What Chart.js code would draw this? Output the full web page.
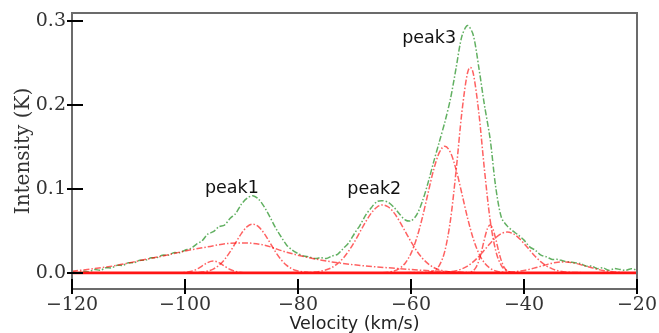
<!DOCTYPE html>
<html>
<head>
<meta charset="utf-8">
<script src="https://cdn.jsdelivr.net/npm/chart.js@4.4.1/dist/chart.umd.min.js"></script>
<style>
  html, body { margin: 0; padding: 0; background: #fff; }
  #wrap { width: 659px; height: 333px; }
</style>
</head>
<body>
<div id="wrap"><canvas id="spec" width="659" height="333"></canvas></div>
<script>
// observed spectrum (green), km/s vs K
var velocity = [-120, -119, -118, -117, -116, -115, -114, -113, -112, -111, -110, -109, -108, -107, -106, -105, -104, -103, -102, -101,
  -100, -99, -98, -97, -96, -95, -94, -93, -92, -91, -90, -89, -88, -87, -86, -85, -84, -83, -82, -81,
  -80, -79, -78, -77, -76, -75, -74, -73, -72, -71, -70, -69, -68, -67, -66, -65, -64, -63, -62, -61,
  -60, -59, -58, -57, -56, -55, -54, -53, -52, -51, -50, -49, -48, -47, -46, -45, -44, -43, -42, -41,
  -40, -39, -38, -37, -36, -35, -34, -33, -32, -31, -30, -29, -28, -27, -26, -25, -24, -23, -22, -21, -20];
var intensity = [0.001, 0.000, 0.002, 0.001, 0.004, 0.003, 0.006, 0.006, 0.009, 0.009, 0.012, 0.012, 0.015, 0.015, 0.018, 0.018, 0.021, 0.021, 0.024, 0.024,
  0.027, 0.029, 0.034, 0.038, 0.046, 0.049, 0.055, 0.057, 0.065, 0.071, 0.082, 0.089, 0.092, 0.088, 0.079, 0.067, 0.054, 0.043, 0.033, 0.027,
  0.023, 0.020, 0.019, 0.017, 0.018, 0.017, 0.020, 0.022, 0.029, 0.036, 0.047, 0.057, 0.069, 0.078, 0.085, 0.086, 0.084, 0.078, 0.070, 0.063,
  0.062, 0.069, 0.085, 0.107, 0.132, 0.156, 0.180, 0.208, 0.245, 0.282, 0.295, 0.284, 0.245, 0.200, 0.160, 0.102, 0.066, 0.056, 0.050, 0.045,
  0.039, 0.031, 0.027, 0.021, 0.019, 0.016, 0.016, 0.014, 0.013, 0.012, 0.011, 0.008, 0.008, 0.005, 0.006, 0.003, 0.005, 0.004, 0.003, 0.005, 0.003];

// fitted components (red)
var broadV = [-120, -116, -112, -108, -104, -100, -96, -92, -89, -86, -82, -78, -74, -70, -66, -62, -58, -54, -50, -46, -20];
var broadI = [0.002, 0.005, 0.009, 0.0146, 0.020, 0.026, 0.031, 0.0352, 0.0355, 0.033, 0.0245, 0.018, 0.013, 0.0095, 0.007, 0.005, 0.003, 0.0015, 0.0005, 0, 0];

var smallV = [-120, -101, -100, -99, -98, -97, -96, -95, -94, -93, -92, -91, -90, -89, -20];
var smallI = [0, 0.0001, 0.0004, 0.0015, 0.004, 0.008, 0.0122, 0.014, 0.0122, 0.008, 0.004, 0.0015, 0.0004, 0.0001, 0];

var peak1V = [-120, -100, -98, -97, -96, -95, -94, -93, -92, -91, -90, -89, -88, -87, -86, -85, -84, -83, -82, -81, -80, -79, -78, -76, -20];
var peak1I = [0, 0, 0.0003, 0.0009, 0.0021, 0.0045, 0.0089, 0.0158, 0.0252, 0.0363, 0.0471, 0.055, 0.058, 0.055, 0.0471, 0.0363, 0.0252, 0.0158, 0.0089, 0.0045, 0.0021, 0.0009, 0.0003, 0, 0];

var peak2V = [-120, -81, -79, -77, -76, -75, -74, -73, -72, -71, -70, -69, -68, -67, -66, -65, -64, -63, -62, -61, -60, -59, -58, -57, -56, -55, -54, -53, -51, -49, -20];
var peak2I = [0, 0, 0.0002, 0.0009, 0.002, 0.0036, 0.0064, 0.011, 0.0175, 0.0263, 0.0371, 0.0491, 0.0611, 0.0715, 0.0785, 0.081, 0.0785, 0.0715, 0.0611, 0.0491, 0.0371, 0.0263, 0.0175, 0.011, 0.0064, 0.0036, 0.002, 0.0009, 0.0002, 0, 0];

var wingV = [-120, -66, -64, -63, -62, -61, -60, -59, -58, -57, -56, -55, -54, -53, -52, -51, -50, -49, -48, -47, -46, -45, -44, -42, -20];
var wingI = [0, 0.0001, 0.0008, 0.0022, 0.0054, 0.0118, 0.0232, 0.0411, 0.0657, 0.0946, 0.1227, 0.1433, 0.151, 0.1433, 0.1227, 0.0946, 0.0657, 0.0411, 0.0232, 0.0118, 0.0054, 0.0022, 0.0008, 0.0001, 0];

var peak3V = [-120, -58, -57, -56, -55, -54, -53, -52, -51, -50, -49.5, -49, -48, -47, -46, -45, -44, -43, -42, -41, -20];
var peak3I = [0, 0.0001, 0.0005, 0.0023, 0.0087, 0.0263, 0.0635, 0.123, 0.1912, 0.2383, 0.245, 0.2383, 0.1912, 0.123, 0.0635, 0.0263, 0.0087, 0.0023, 0.0005, 0.0001, 0];

var narrowV = [-120, -50, -49.5, -49, -48.5, -48, -47.5, -47, -46.5, -46, -45.5, -45, -44.5, -44, -43.5, -43, -42.5, -42, -20];
var narrowI = [0, 0.0002, 0.0008, 0.0025, 0.0065, 0.0142, 0.0261, 0.0403, 0.0523, 0.057, 0.0523, 0.0403, 0.0261, 0.0142, 0.0065, 0.0025, 0.0008, 0.0002, 0];

var shoulderV = [-120, -55, -53, -52, -51, -50, -49, -48, -47, -46, -45, -44, -43, -42, -41, -40, -39, -38, -37, -36, -35, -34, -33, -31, -20];
var shoulderI = [0, 0.0003, 0.0013, 0.0025, 0.0047, 0.0081, 0.013, 0.0195, 0.0271, 0.035, 0.042, 0.0469, 0.0486, 0.0469, 0.042, 0.035, 0.0271, 0.0195, 0.013, 0.0081, 0.0047, 0.0025, 0.0013, 0.0003, 0];

var tailV = [-120, -45, -43, -42, -41, -40, -39, -38, -37, -36, -35, -34, -33, -32, -31, -30, -29, -28, -27, -26, -25, -24, -23, -21, -20];
var tailI = [0, 0.0001, 0.0006, 0.001, 0.0018, 0.0028, 0.0042, 0.006, 0.0079, 0.0098, 0.0115, 0.0126, 0.013, 0.0126, 0.0115, 0.0098, 0.0079, 0.006, 0.0042, 0.0028, 0.0018, 0.001, 0.0006, 0.0001, 0];

var baseV = [-120, -20];
var baseI = [0, 0];

var xTicks = [-120, -100, -80, -60, -40, -20];
var yTicks = [0.0, 0.1, 0.2, 0.3];

var peakNames = ['peak1', 'peak2', 'peak3'];
var peakAt = [[-91.7, 0.095], [-66.5, 0.094], [-56.8, 0.274]];

function pts(v, i) {
  return v.map(function (x, k) { return { x: x, y: i[k] }; });
}

var redLine = 'rgba(255, 0, 0, 0.62)';
var dashDot = [6, 2, 1.5, 2];

function component(v, i) {
  return {
    data: pts(v, i),
    borderColor: redLine,
    borderWidth: 1.5,
    borderDash: dashDot,
    pointRadius: 0,
    cubicInterpolationMode: 'monotone',
    fill: false
  };
}

// frame, ticks that cross the frame, and the peak labels
var framePlugin = {
  id: 'frame',
  afterDatasetsDraw: function (chart) {
    var ctx = chart.ctx, a = chart.chartArea;
    var xs = chart.scales.x, ys = chart.scales.y;
    ctx.save();
    ctx.strokeStyle = '#6b6b6b';
    ctx.lineWidth = 2;
    ctx.strokeRect(a.left, a.top, a.right - a.left, a.bottom - a.top);

    ctx.strokeStyle = '#000';
    ctx.lineWidth = 2;
    ctx.beginPath();
    yTicks.forEach(function (t) {
      var py = Math.round(ys.getPixelForValue(t));
      ctx.moveTo(a.left - 5, py);
      ctx.lineTo(a.left + 11, py);
    });
    xTicks.forEach(function (t) {
      var px = Math.round(xs.getPixelForValue(t));
      ctx.moveTo(px, a.bottom - 10);
      ctx.lineTo(px, a.bottom + 5);
    });
    ctx.stroke();

    ctx.fillStyle = '#111';
    ctx.font = '17.5px "DejaVu Sans"';
    ctx.textAlign = 'center';
    ctx.textBaseline = 'alphabetic';
    peakNames.forEach(function (name, k) {
      ctx.fillText(name, xs.getPixelForValue(peakAt[k][0]), ys.getPixelForValue(peakAt[k][1]));
    });
    ctx.restore();
  }
};

var datasets = [
  {
    data: pts(baseV, baseI),
    borderColor: '#ff1414',
    borderWidth: 2.8,
    pointRadius: 0,
    fill: false
  },
  component(broadV, broadI),
  component(smallV, smallI),
  component(peak1V, peak1I),
  component(peak2V, peak2I),
  component(wingV, wingI),
  component(peak3V, peak3I),
  component(narrowV, narrowI),
  component(shoulderV, shoulderI),
  component(tailV, tailI),
  {
    data: pts(velocity, intensity),
    borderColor: 'rgba(0, 128, 0, 0.62)',
    borderWidth: 1.5,
    borderDash: dashDot,
    pointRadius: 0,
    tension: 0.3,
    fill: false
  }
];

new Chart(document.getElementById('spec'), {
  type: 'line',
  data: { datasets: datasets },
  options: {
    responsive: false,
    animation: false,
    events: [],
    layout: { padding: { top: 13, right: 22, bottom: 0, left: 0 } },
    plugins: { legend: { display: false }, tooltip: { enabled: false } },
    scales: {
      x: {
        type: 'linear',
        min: -120,
        max: -20,
        afterFit: function (s) { s.height = 44; s.paddingLeft = 0; s.paddingRight = 0; },
        afterBuildTicks: function (s) { s.ticks = xTicks.map(function (v) { return { value: v }; }); },
        grid: { display: false, drawTicks: false },
        border: { display: false },
        ticks: {
          padding: 5,
          maxRotation: 0,
          color: '#333',
          font: { family: 'DejaVu Serif', size: 19 },
          callback: function (v) { return v < 0 ? '\u2212' + Math.abs(v) : String(v); }
        },
        title: {
          display: true,
          text: 'Velocity (km/s)',
          color: '#222',
          font: { family: 'DejaVu Sans', size: 17.5 },
          padding: { top: 0, bottom: -2 }
        }
      },
      y: {
        min: -0.0193,
        max: 0.3099,
        afterFit: function (s) { s.width = 72; s.paddingTop = 0; s.paddingBottom = 0; },
        afterBuildTicks: function (s) { s.ticks = yTicks.map(function (v) { return { value: v }; }); },
        grid: { display: false, drawTicks: false },
        border: { display: false },
        ticks: {
          padding: 6,
          color: '#333',
          font: { family: 'DejaVu Serif', size: 19 },
          callback: function (v) { return Number(v).toFixed(1); }
        },
        title: {
          display: true,
          text: 'Intensity (K)',
          color: '#333',
          font: { family: 'DejaVu Serif', size: 20 },
          padding: { top: 12, bottom: 0 }
        }
      }
    }
  },
  plugins: [framePlugin]
});
</script>
</body>
</html>
